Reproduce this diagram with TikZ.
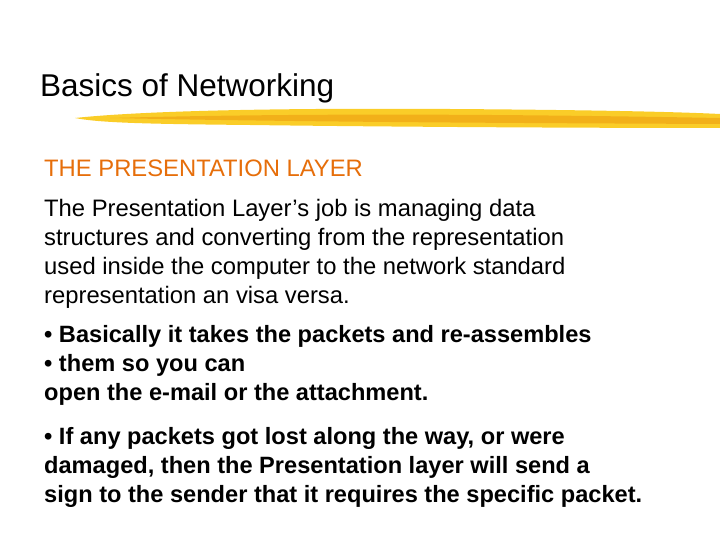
\documentclass[tikz,border=0pt]{standalone}
\usepackage{fontspec}
\setmainfont{Liberation Sans}
\definecolor{headorange}{RGB}{230,110,10}
\definecolor{brushY}{RGB}{250,205,40}
\definecolor{brushO}{RGB}{240,165,20}
\begin{document}
\begin{tikzpicture}[x=1pt,y=-1pt,
  body/.style={anchor=north west,inner sep=0pt,align=left,font=\fontsize{23.8}{29}\selectfont},
  bbody/.style={body,font=\fontsize{23.6}{29}\selectfont\bfseries}]
\useasboundingbox (0,0) rectangle (720,540);
\node[anchor=base west,inner sep=0pt,font=\fontsize{31.5}{34}\selectfont] (title) at (40,97) {Basics of Networking};
\fill[brushY] (75,118) .. controls (150,110) and (300,108) .. (450,109)
  .. controls (600,110) and (680,112) .. (720,114) -- (720,128)
  .. controls (600,128) and (400,127) .. (250,125) .. controls (150,124) and (100,123) .. (75,118) -- cycle;
\fill[brushO,opacity=0.7] (110,118) .. controls (300,113) and (500,114) .. (720,118) -- (720,124)
  .. controls (500,123) and (300,122) .. (110,118) -- cycle;
\node[anchor=base west,inner sep=0pt,text=headorange,font=\fontsize{23.8}{29}\selectfont] (head) at (44,177) {THE PRESENTATION LAYER};
\node[body] (p1) at (44,199) {The Presentation Layer’s job is managing data\\structures and converting from the representation\\used inside the computer to the network standard\\representation an visa versa.};
\node[bbody] (p2) at (44,325) {• Basically it takes the packets and re-assembles\\• them so you can\\open the e-mail or the attachment.};
\node[bbody] (p3) at (44,427) {• If any packets got lost along the way, or were\\damaged, then the Presentation layer will send a\\sign to the sender that it requires the specific packet.};
\end{tikzpicture}
\end{document}
